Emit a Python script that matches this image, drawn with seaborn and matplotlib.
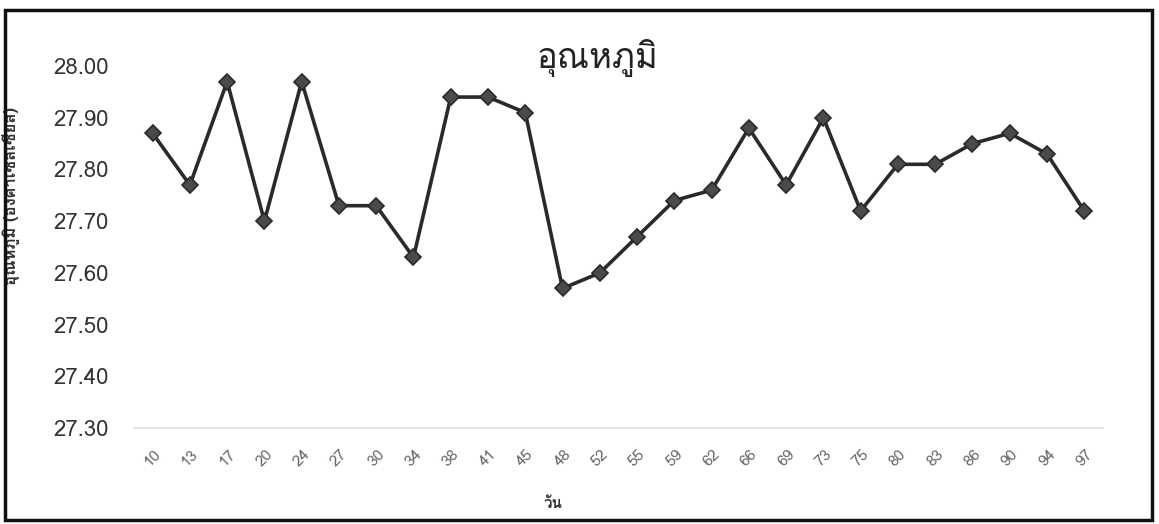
import matplotlib
matplotlib.use("Agg")
import matplotlib.pyplot as plt
from matplotlib import font_manager, ft2font
from matplotlib.patches import Rectangle
import pandas as pd
import seaborn as sns

# Data
days = ["10", "13", "17", "20", "24", "27", "30", "34", "38", "41", "45", "48", "52", "55",
        "59", "62", "66", "69", "73", "75", "80", "83", "86", "90", "94", "97"]
temps = [27.87, 27.77, 27.97, 27.70, 27.97, 27.73, 27.73, 27.63, 27.94, 27.94, 27.91, 27.57, 27.60, 27.67,
         27.74, 27.76, 27.88, 27.77, 27.90, 27.72, 27.81, 27.81, 27.85, 27.87, 27.83, 27.72]
y_ticks = [27.30, 27.40, 27.50, 27.60, 27.70, 27.80, 27.90, 28.00]

title = "อุณหภูมิ"
x_label = "วัน"
y_label = "อุณหภูมิ (องศาเซลเซียส)"

df = pd.DataFrame({"day": days, "temp": temps})

sns.set_theme(style="white")

# find an installed font that has Thai glyphs
thai_font = None
for f in font_manager.fontManager.ttflist:
    try:
        if 0x0E2D in ft2font.FT2Font(f.fname).get_charmap():
            thai_font = f.name
            break
    except Exception:
        pass
families = [thai_font, "DejaVu Sans"] if thai_font else ["DejaVu Sans"]
plt.rcParams["font.family"] = families

fig = plt.figure(figsize=(11.59, 5.24), dpi=100)
ax = fig.add_axes([0.1156, 0.183, 0.836, 0.691])

sns.lineplot(data=df, x="day", y="temp", sort=False, color="#2a2a2a", linewidth=2.6,
             marker="D", markersize=8, markerfacecolor="#4a4a4a", markeredgecolor="#2a2a2a",
             markeredgewidth=1.2, ax=ax)

ax.set_xlim(-0.5, len(days) - 0.5)
ax.set_ylim(27.30, 28.00)
ax.set_yticks(y_ticks)
ax.set_yticklabels([f"{v:.2f}" for v in y_ticks], fontsize=16, color="#333333")
ax.tick_params(axis="y", length=0, pad=18)
ax.tick_params(axis="x", length=4, color="#dddddd", pad=10, labelsize=11, labelcolor="#666666")
for lbl in ax.get_xticklabels():
    lbl.set_rotation(45)
    lbl.set_ha("center")
    lbl.set_va("top")

for s in ["top", "right", "left"]:
    ax.spines[s].set_visible(False)
ax.spines["bottom"].set_color("#e2e2e2")
ax.grid(False)

ax.set_xlabel(x_label, fontsize=11, fontweight="bold", color="#333333")
ax.xaxis.set_label_coords(0.432, -0.19)
ax.set_ylabel(y_label, fontsize=12, fontweight="bold", color="#333333")
ax.yaxis.set_label_coords(-0.118, 0.64)

ax.text(0.478, 1.022, title, transform=ax.transAxes, ha="center", va="center",
        fontsize=25, color="#222222")

# outer frame
fig.patches.append(Rectangle((0.004, 0.008), 0.99, 0.972, transform=fig.transFigure,
                             fill=False, edgecolor="#111111", linewidth=2.5))

plt.savefig("out.png", dpi=100)
print("saved out.png")
